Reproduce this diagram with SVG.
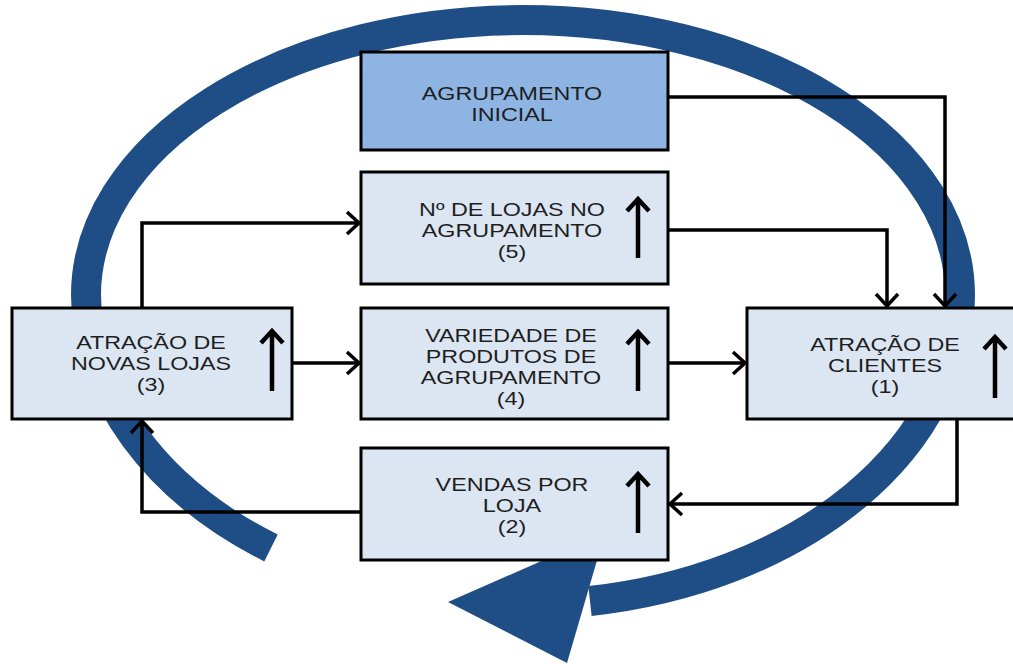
<svg xmlns="http://www.w3.org/2000/svg" width="1013" height="664" viewBox="0 0 1013 664">
<defs>
<style>
.box{fill:#dce6f2;stroke:#000;stroke-width:3}
.boxd{fill:#8eb4e3;stroke:#000;stroke-width:3}
.t{font-family:"Liberation Sans",Arial,sans-serif;font-size:18.5px;fill:#1e1e1e;text-anchor:middle}
.up{fill:none;stroke:#000;stroke-width:4.5}
.con{fill:none;stroke:#000;stroke-width:3.5;marker-end:url(#ah)}
</style>
<marker id="ah" markerUnits="userSpaceOnUse" markerWidth="24" markerHeight="30" refX="15" refY="13" orient="auto" viewBox="0 0 24 30">
<path d="M3,2 L15,13 L3,24" fill="none" stroke="#000" stroke-width="3.5"/>
</marker>
</defs>
<rect width="1013" height="664" fill="#fff"/>
<g id="cycle">
<path d="M271,548 A437,310 0 0 1 86,295 A437,275 0 0 1 960,295 A437,310 0 0 1 590,601" fill="none" stroke="#1f4e86" stroke-width="30"/>
<polygon points="448,602 605,533 567,663" fill="#1f4e86"/>
</g>
<g id="connectors">
<path class="con" d="M668,97 H945 V306"/>
<path class="con" d="M668,230 H887 V306"/>
<path class="con" d="M142,308 V223 H359"/>
<path class="con" d="M292,363 H359"/>
<path class="con" d="M668,363 H745"/>
<path class="con" d="M957,419 V504 H670"/>
<path class="con" d="M361,512 H142 V421"/>
</g>
<g id="agrupamento-inicial">
<rect class="boxd" x="361" y="52" width="307" height="98"/>
<g transform="translate(512,0) scale(1.26,1)">
<text class="t" x="0" y="100">AGRUPAMENTO</text>
<text class="t" x="0" y="121">INICIAL</text>
</g>
</g>
<g id="n-lojas">
<rect class="box" x="361" y="172" width="307" height="112"/>
<g transform="translate(512,0) scale(1.26,1)">
<text class="t" x="0" y="216">Nº DE LOJAS NO</text>
<text class="t" x="0" y="237">AGRUPAMENTO</text>
<text class="t" x="0" y="258">(5)</text>
</g>
<path class="up" d="M638,258 V199 M627,211 L638,199 L649,211"/>
</g>
<g id="novas-lojas">
<rect class="box" x="12" y="308" width="280" height="111"/>
<g transform="translate(151,0) scale(1.26,1)">
<text class="t" x="0" y="349">ATRAÇÃO DE</text>
<text class="t" x="0" y="370">NOVAS LOJAS</text>
<text class="t" x="0" y="391">(3)</text>
</g>
<path class="up" d="M272,391 V331 M261,343 L272,331 L283,343"/>
</g>
<g id="variedade">
<rect class="box" x="361" y="308" width="307" height="111"/>
<g transform="translate(511,0) scale(1.26,1)">
<text class="t" x="0" y="342">VARIEDADE DE</text>
<text class="t" x="0" y="363">PRODUTOS DE</text>
<text class="t" x="0" y="384">AGRUPAMENTO</text>
<text class="t" x="0" y="405">(4)</text>
</g>
<path class="up" d="M638,391 V332 M627,344 L638,332 L649,344"/>
</g>
<g id="clientes">
<rect class="box" x="747" y="308" width="280" height="111"/>
<g transform="translate(885,0) scale(1.26,1)">
<text class="t" x="0" y="351">ATRAÇÃO DE</text>
<text class="t" x="0" y="372">CLIENTES</text>
<text class="t" x="0" y="393">(1)</text>
</g>
<path class="up" d="M995,398 V337 M984,349 L995,337 L1006,349"/>
</g>
<g id="vendas">
<rect class="box" x="361" y="448" width="307" height="112"/>
<g transform="translate(512,0) scale(1.26,1)">
<text class="t" x="0" y="491">VENDAS POR</text>
<text class="t" x="0" y="512">LOJA</text>
<text class="t" x="0" y="533">(2)</text>
</g>
<path class="up" d="M638,533 V474 M627,486 L638,474 L649,486"/>
</g>
</svg>
